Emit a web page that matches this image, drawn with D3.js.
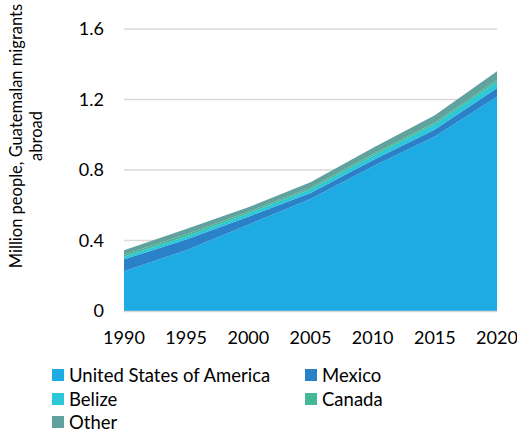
<!DOCTYPE html>
<meta charset="utf-8">
<title>Guatemalan migrants abroad</title>
<style>
body { margin: 0; background: #fff; }
text { font-family: Lato, "Open Sans", sans-serif; fill: #000; }
</style>
<script src="https://d3js.org/d3.v7.min.js"></script>
<div id="chart"></div>
<script>

// data (million people)
var years = [1990, 1995, 2000, 2005, 2010, 2015, 2020];
var usa    = [0.225, 0.345, 0.49, 0.635, 0.82, 0.99, 1.215];
var mexico = [0.068, 0.060, 0.045, 0.035, 0.035, 0.04, 0.05];
var belize = [0.015, 0.018, 0.018, 0.020, 0.025, 0.03, 0.035];
var canada = [0.011, 0.012, 0.010, 0.010, 0.010, 0.01, 0.012];
var other  = [0.025, 0.030, 0.025, 0.030, 0.035, 0.04, 0.048];
var seriesNames = ["United States of America", "Mexico", "Belize", "Canada", "Other"];
var colors = ["#1eaae2", "#2a81c8", "#2ac8d9", "#44b894", "#61a29e"];
var yTicks = [0, 0.4, 0.8, 1.2, 1.6];

var width = 517, height = 433;
var margin = {top: 29, right: 20, bottom: 122, left: 124};

var svg = d3.select("#chart")
  .append("svg")
  .attr("width", width)
  .attr("height", height);

var x = d3.scaleLinear()
  .domain([1990, 2020])
  .range([margin.left, 497]);

var y = d3.scaleLinear()
  .domain([0, 1.6])
  .range([311, margin.top]);

// build rows for the stack
var rows = years.map(function(yr, i) {
  return {year: yr, "United States of America": usa[i], "Mexico": mexico[i],
          "Belize": belize[i], "Canada": canada[i], "Other": other[i]};
});
var stacked = d3.stack().keys(seriesNames)(rows);

// gridlines
svg.append("g")
  .selectAll("line")
  .data(yTicks.slice(1))
  .enter()
  .append("line")
    .attr("x1", x(1990))
    .attr("x2", x(2020))
    .attr("y1", function(d) { return y(d); })
    .attr("y2", function(d) { return y(d); })
    .style("stroke", "#d9d9d9")
    .style("stroke-width", 1.3);

// areas
var area = d3.area()
  .x(function(d) { return x(d.data.year); })
  .y0(function(d) { return y(d[0]); })
  .y1(function(d) { return y(d[1]); });

svg.append("g")
  .selectAll("path")
  .data(stacked)
  .enter()
  .append("path")
    .attr("d", area)
    .style("fill", function(d, i) { return colors[i]; });

// x axis line
svg.append("line")
  .attr("x1", x(1990))
  .attr("x2", x(2020))
  .attr("y1", y(0) + 0.5)
  .attr("y2", y(0) + 0.5)
  .style("stroke", "#d9d9d9")
  .style("stroke-width", 1.3);

// y tick labels
svg.append("g")
  .selectAll("text")
  .data(yTicks)
  .enter()
  .append("text")
    .attr("x", 104)
    .attr("y", function(d) { return y(d); })
    .attr("dy", "0.36em")
    .attr("text-anchor", "end")
    .style("font-size", "18px")
    .text(function(d) { return d === 0 ? "0" : d.toFixed(1); });

// x tick labels
svg.append("g")
  .selectAll("text")
  .data(years)
  .enter()
  .append("text")
    .attr("x", function(d) { return x(d); })
    .attr("y", 344)
    .attr("text-anchor", "middle")
    .style("font-size", "18px")
    .text(function(d) { return d; });

// y axis title
var title = svg.append("text")
  .attr("transform", "translate(22,136) rotate(-90)")
  .attr("text-anchor", "middle")
  .style("font-size", "16.5px");
title.append("tspan").attr("x", 0).attr("y", 0).text("Million people, Guatemalan migrants");
title.append("tspan").attr("x", 0).attr("y", 20).text("abroad");

// legend
var legendPos = [[52, 375], [305, 375], [52, 399], [305, 399], [52, 422]];
var legend = svg.append("g")
  .selectAll("g")
  .data(seriesNames)
  .enter()
  .append("g")
    .attr("transform", function(d, i) { return "translate(" + legendPos[i][0] + "," + legendPos[i][1] + ")"; });

legend.append("rect")
  .attr("x", 0)
  .attr("y", -6)
  .attr("width", 12)
  .attr("height", 12)
  .style("fill", function(d, i) { return colors[i]; });

legend.append("text")
  .attr("x", 17)
  .attr("y", 0)
  .attr("dy", "0.36em")
  .style("font-size", "18.5px")
  .text(function(d) { return d; });

</script>
